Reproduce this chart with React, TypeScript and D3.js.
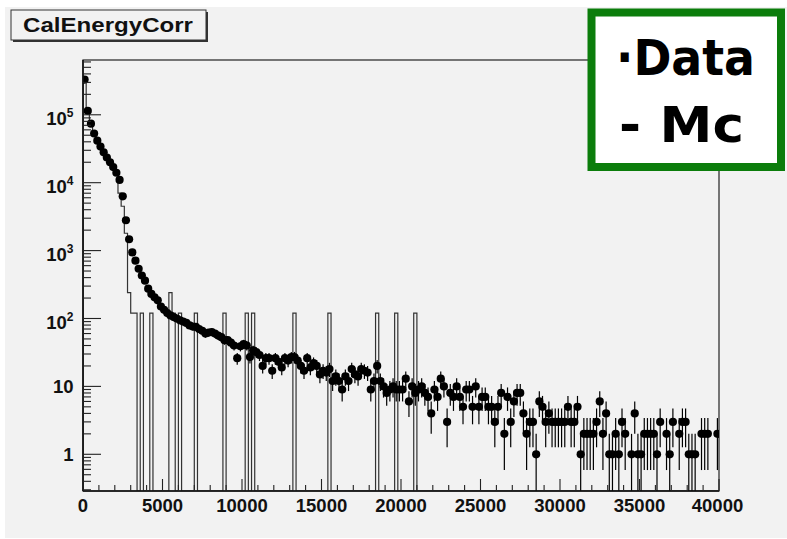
import React from "react";
import * as d3 from "d3";

// ---- data ----
const X_MIN = 0;
const X_MAX = 40000;
const BIN_WIDTH = 200;

// Data counts per 200-unit bin (0 = empty bin)
const dataCounts: number[] = [
  330000, 114000, 74000, 53000, 41500, 34000, 28000, 23500, 20000, 17000,
  14000, 11000, 6300, 2800, 1470, 940, 710, 540, 430, 360,
  275, 230, 205, 185, 150, 134, 120, 111, 105, 100,
  94, 90, 86, 79, 76, 75, 70, 66, 60, 62,
  63, 60, 56, 53, 48, 48, 44, 40, 26, 39,
  42, 40, 27, 34, 32, 29, 20, 26, 26, 17,
  26, 23, 19, 26, 24, 27, 27, 24, 20, 17,
  26, 19, 22, 20, 15, 17, 16, 18, 12, 14,
  12, 9, 14, 12, 18, 15, 14, 18, 17, 16,
  9, 12, 20, 12, 10, 8, 9, 10, 9, 9,
  9, 13, 6, 10, 8, 9, 10, 8, 7, 4,
  9, 7, 13, 10, 3, 8, 7, 10, 7, 5,
  9, 9, 5, 10, 5, 7, 7, 5, 5, 3,
  5, 8, 2, 7, 3, 6, 8, 8, 4, 2,
  3, 3, 1, 6, 5, 3, 4, 3, 3, 3,
  3, 3, 5, 3, 3, 5, 1, 2, 2, 2,
  2, 3, 6, 2, 4, 1, 1, 2, 1, 3,
  2, 0, 1, 4, 1, 1, 2, 2, 2, 2,
  1, 3, 0, 2, 1, 3, 0, 2, 3, 3,
  1, 1, 1, 0, 2, 2, 2, 0, 0, 2,
];

// Mc histogram: first bins follow the data, then sparse spikes
const mcHead: number[] = [
  360000, 118000, 76000, 54000, 42000, 34000, 28000, 23000, 19500, 16500,
  13700, 7000, 4500, 1800,
];
const mcSpikeBins: number[] = [14, 15, 16, 18, 21, 27, 28, 30, 35, 44, 51, 53, 66, 77, 92, 98, 104];
const mcSpikeValues: number[] = [240, 120, 120, 120, 120, 240, 120, 120, 120, 120, 120, 120, 120, 120, 120, 120, 120];

const xTickMajor: number[] = [0, 5000, 10000, 15000, 20000, 25000, 30000, 35000, 40000];
const yDecades: number[] = [0, 1, 2, 3, 4, 5];

const titleText = "CalEnergyCorr";
const legendLines: string[] = ["·Data", "- Mc"];

// ---- layout ----
const W = 787;
const H = 539;
const FRAME = { left: 83, right: 719, top: 60, bottom: 491 };
const BG = "#f2f2f2";
const FONT = "'Liberation Sans', Arial, Helvetica, sans-serif";

export default function App() {
  const nBins = Math.round((X_MAX - X_MIN) / BIN_WIDTH);
  const mcValues: number[] = new Array(nBins).fill(0);
  mcHead.forEach((v, i) => (mcValues[i] = v));
  mcSpikeBins.forEach((b, i) => (mcValues[b] = mcSpikeValues[i]));

  const x = d3.scaleLinear().domain([X_MIN, X_MAX]).range([FRAME.left, FRAME.right]);
  const y = d3.scaleLog().domain([0.288, 6.41e5]).range([FRAME.bottom, FRAME.top]);
  const yc = (v: number) => (v > 0 ? Math.max(FRAME.top, Math.min(FRAME.bottom, y(v))) : FRAME.bottom);

  // Mc step path
  const pts: [number, number][] = [[x(X_MIN), FRAME.bottom]];
  mcValues.forEach((v, i) => {
    const yy = yc(v);
    pts.push([x(X_MIN + i * BIN_WIDTH), yy]);
    pts.push([x(X_MIN + (i + 1) * BIN_WIDTH), yy]);
  });
  pts.push([x(X_MAX), FRAME.bottom]);
  const mcPath = d3.line()(pts) || "";

  // y ticks
  const yTicks: { v: number; major: boolean }[] = [];
  for (let n = -1; n <= 5; n++) {
    for (let k = 1; k <= 9; k++) {
      const v = k * Math.pow(10, n);
      if (v >= y.domain()[0] && v <= y.domain()[1]) yTicks.push({ v, major: k === 1 });
    }
  }
  const xMinor = d3.range(X_MIN, X_MAX + 1, 1000);

  const points = dataCounts
    .map((c, i) => ({ c, xc: x(X_MIN + (i + 0.5) * BIN_WIDTH), x0: x(X_MIN + i * BIN_WIDTH), x1: x(X_MIN + (i + 1) * BIN_WIDTH) }))
    .filter((p) => p.c > 0);

  return (
    <svg width={W} height={H} style={{ position: "absolute", left: 0, top: 0, background: "#ffffff" }}>
      <rect x={5} y={7} width={W - 5} height={H - 8} fill={BG} />
      <defs>
        <clipPath id="plotclip">
          <rect x={FRAME.left} y={FRAME.top} width={FRAME.right - FRAME.left} height={FRAME.bottom - FRAME.top} />
        </clipPath>
      </defs>

      {/* frame */}
      <rect x={FRAME.left} y={FRAME.top} width={FRAME.right - FRAME.left} height={FRAME.bottom - FRAME.top} fill="none" stroke="#222" strokeWidth={1.2} />

      {/* Mc histogram */}
      <g clipPath="url(#plotclip)">
        <path d={mcPath} fill="none" stroke="#333" strokeWidth={1.2} />
      </g>

      {/* Data points with errors */}
      <g clipPath="url(#plotclip)">
        {points.map((p, i) => {
          const e = Math.sqrt(p.c);
          return (
            <g key={i}>
              <line x1={p.xc} x2={p.xc} y1={yc(p.c + e)} y2={yc(p.c - e)} stroke="#000" strokeWidth={1.2} />
              <line x1={p.x0} x2={p.x1} y1={yc(p.c)} y2={yc(p.c)} stroke="#000" strokeWidth={1.2} />
              <circle cx={p.xc} cy={yc(p.c)} r={4.1} fill="#000" />
            </g>
          );
        })}
      </g>

      {/* axes lines */}
      <line x1={FRAME.left} x2={FRAME.left} y1={FRAME.top} y2={FRAME.bottom} stroke="#111" strokeWidth={1.6} />
      <line x1={FRAME.left} x2={FRAME.right} y1={FRAME.bottom} y2={FRAME.bottom} stroke="#111" strokeWidth={1.6} />

      {/* y ticks */}
      {yTicks.map((t, i) => (
        <line key={i} x1={FRAME.left} x2={FRAME.left + (t.major ? 18 : 8)} y1={y(t.v)} y2={y(t.v)} stroke="#222" strokeWidth={1.1} />
      ))}
      {yDecades.map((n) => {
        const ty = y(Math.pow(10, n));
        if (n === 0 || n === 1) {
          return (
            <text key={n} x={73.5} y={ty + 6.7} textAnchor="end" fontFamily={FONT} fontWeight="bold" fontSize={18.5} fill="#111">
              {n === 0 ? "1" : "10"}
            </text>
          );
        }
        return (
          <text key={n} x={73.5} y={ty + 10.5} textAnchor="end" fontFamily={FONT} fontWeight="bold" fontSize={18.5} fill="#111">
            10
            <tspan dy={-8} fontSize={12}>{String(n)}</tspan>
          </text>
        );
      })}

      {/* x ticks */}
      {xMinor.map((v) => {
        const major = v % 5000 === 0;
        return <line key={v} x1={x(v)} x2={x(v)} y1={FRAME.bottom} y2={FRAME.bottom - (major ? 12 : 6)} stroke="#222" strokeWidth={1.1} />;
      })}
      {xTickMajor.map((v) => (
        <text key={v} x={x(v) - (v === X_MAX ? 1.5 : 0)} y={511.5} textAnchor="middle" fontFamily={FONT} fontWeight="bold" fontSize={18.5} fill="#111">
          {String(v)}
        </text>
      ))}

      {/* title box */}
      <rect x={13} y={12} width={195} height={30} fill="#333" />
      <rect x={11} y={10} width={195} height={30} fill={BG} stroke="#333" strokeWidth={1} />
      <text x={23} y={32} fontFamily={FONT} fontWeight="bold" fontSize={21} fill="#111" textLength={170} lengthAdjust="spacingAndGlyphs">
        {titleText}
      </text>

      {/* legend */}
      <rect x={591.5} y={12.5} width={189.5} height={154.5} fill="#ffffff" stroke="#0b7d0b" strokeWidth={8} />
      <text x={616} y={75} fontFamily="'Comic Sans MS', 'DejaVu Sans', sans-serif" fontWeight="bold" fontSize={50} fill="#000" textLength={139} lengthAdjust="spacingAndGlyphs">
        {legendLines[0]}
      </text>
      <text x={619} y={142} fontFamily="'Comic Sans MS', 'DejaVu Sans', sans-serif" fontWeight="bold" fontSize={50} fill="#000" textLength={125} lengthAdjust="spacingAndGlyphs" xmlSpace="preserve">
        {legendLines[1]}
      </text>
    </svg>
  );
}
